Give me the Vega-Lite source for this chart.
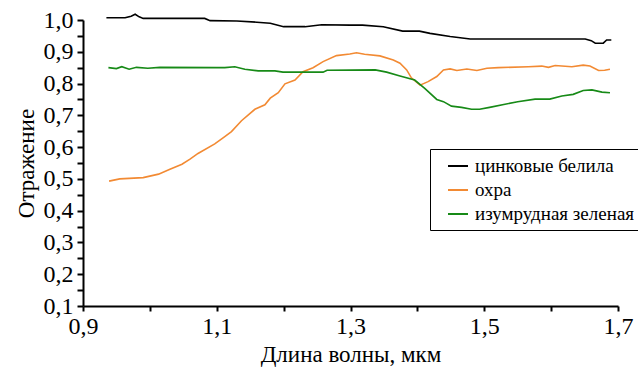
{
  "$schema": "https://vega.github.io/schema/vega-lite/v6.json",
  "width": 535,
  "height": 286,
  "autosize": {"type": "none"},
  "padding": {"left": 83, "top": 20, "right": 20, "bottom": 65},
  "background": "white",
  "config": {
    "view": {"stroke": null},
    "font": "Liberation Serif, Times New Roman, serif",
    "axis": {
      "domainColor": "black", "domainWidth": 2, "tickColor": "black", "tickWidth": 2,
      "labelColor": "black", "titleColor": "black", "grid": false,
      "titleFontWeight": "normal"
    }
  },
  "datasets": {
    "pts": [
      {"m":"цинковые белила","wl":0.935,"r":1.007},{"m":"цинковые белила","wl":0.963,"r":1.007},{"m":"цинковые белила","wl":0.972,"r":1.012},{"m":"цинковые белила","wl":0.978,"r":1.018},{"m":"цинковые белила","wl":0.984,"r":1.010},{"m":"цинковые белила","wl":0.990,"r":1.005},{"m":"цинковые белила","wl":1.082,"r":1.005},{"m":"цинковые белила","wl":1.090,"r":0.998},{"m":"цинковые белила","wl":1.130,"r":0.997},{"m":"цинковые белила","wl":1.160,"r":0.993},{"m":"цинковые белила","wl":1.180,"r":0.990},{"m":"цинковые белила","wl":1.200,"r":0.979},{"m":"цинковые белила","wl":1.232,"r":0.979},{"m":"цинковые белила","wl":1.257,"r":0.985},{"m":"цинковые белила","wl":1.299,"r":0.984},{"m":"цинковые белила","wl":1.318,"r":0.984},{"m":"цинковые белила","wl":1.349,"r":0.979},{"m":"цинковые белила","wl":1.378,"r":0.965},{"m":"цинковые белила","wl":1.403,"r":0.965},{"m":"цинковые белила","wl":1.419,"r":0.958},{"m":"цинковые белила","wl":1.449,"r":0.948},{"m":"цинковые белила","wl":1.479,"r":0.940},{"m":"цинковые белила","wl":1.651,"r":0.940},{"m":"цинковые белила","wl":1.660,"r":0.935},{"m":"цинковые белила","wl":1.666,"r":0.927},{"m":"цинковые белила","wl":1.678,"r":0.927},{"m":"цинковые белила","wl":1.683,"r":0.937},{"m":"цинковые белила","wl":1.690,"r":0.937},
      {"m":"охра","wl":0.939,"r":0.493},{"m":"охра","wl":0.955,"r":0.500},{"m":"охра","wl":0.990,"r":0.504},{"m":"охра","wl":1.013,"r":0.515},{"m":"охра","wl":1.030,"r":0.530},{"m":"охра","wl":1.048,"r":0.546},{"m":"охра","wl":1.060,"r":0.562},{"m":"охра","wl":1.072,"r":0.580},{"m":"охра","wl":1.097,"r":0.610},{"m":"охра","wl":1.112,"r":0.633},{"m":"охра","wl":1.122,"r":0.649},{"m":"охра","wl":1.137,"r":0.683},{"m":"охра","wl":1.157,"r":0.719},{"m":"охра","wl":1.172,"r":0.733},{"m":"охра","wl":1.180,"r":0.754},{"m":"охра","wl":1.192,"r":0.771},{"m":"охра","wl":1.202,"r":0.799},{"m":"охра","wl":1.217,"r":0.811},{"m":"охра","wl":1.229,"r":0.837},{"m":"охра","wl":1.244,"r":0.850},{"m":"охра","wl":1.259,"r":0.869},{"m":"охра","wl":1.279,"r":0.888},{"m":"охра","wl":1.299,"r":0.893},{"m":"охра","wl":1.309,"r":0.897},{"m":"охра","wl":1.321,"r":0.892},{"m":"охра","wl":1.344,"r":0.887},{"m":"охра","wl":1.364,"r":0.874},{"m":"охра","wl":1.374,"r":0.864},{"m":"охра","wl":1.384,"r":0.843},{"m":"охра","wl":1.391,"r":0.818},{"m":"охра","wl":1.404,"r":0.795},{"m":"охра","wl":1.416,"r":0.806},{"m":"охра","wl":1.429,"r":0.822},{"m":"охра","wl":1.439,"r":0.843},{"m":"охра","wl":1.449,"r":0.846},{"m":"охра","wl":1.459,"r":0.841},{"m":"охра","wl":1.474,"r":0.846},{"m":"охра","wl":1.489,"r":0.841},{"m":"охра","wl":1.504,"r":0.848},{"m":"охра","wl":1.521,"r":0.850},{"m":"охра","wl":1.566,"r":0.853},{"m":"охра","wl":1.586,"r":0.855},{"m":"охра","wl":1.596,"r":0.851},{"m":"охра","wl":1.606,"r":0.857},{"m":"охра","wl":1.631,"r":0.853},{"m":"охра","wl":1.648,"r":0.858},{"m":"охра","wl":1.658,"r":0.855},{"m":"охра","wl":1.671,"r":0.841},{"m":"охра","wl":1.680,"r":0.842},{"m":"охра","wl":1.688,"r":0.845},
      {"m":"изумрудная зеленая","wl":0.938,"r":0.850},{"m":"изумрудная зеленая","wl":0.950,"r":0.847},{"m":"изумрудная зеленая","wl":0.958,"r":0.853},{"m":"изумрудная зеленая","wl":0.969,"r":0.845},{"m":"изумрудная зеленая","wl":0.980,"r":0.851},{"m":"изумрудная зеленая","wl":0.997,"r":0.848},{"m":"изумрудная зеленая","wl":1.015,"r":0.851},{"m":"изумрудная зеленая","wl":1.100,"r":0.850},{"m":"изумрудная зеленая","wl":1.112,"r":0.850},{"m":"изумрудная зеленая","wl":1.127,"r":0.853},{"m":"изумрудная зеленая","wl":1.142,"r":0.845},{"m":"изумрудная зеленая","wl":1.162,"r":0.840},{"m":"изумрудная зеленая","wl":1.187,"r":0.840},{"m":"изумрудная зеленая","wl":1.199,"r":0.836},{"m":"изумрудная зеленая","wl":1.259,"r":0.836},{"m":"изумрудная зеленая","wl":1.265,"r":0.842},{"m":"изумрудная зеленая","wl":1.337,"r":0.843},{"m":"изумрудная зеленая","wl":1.354,"r":0.836},{"m":"изумрудная зеленая","wl":1.374,"r":0.824},{"m":"изумрудная зеленая","wl":1.396,"r":0.811},{"m":"изумрудная зеленая","wl":1.411,"r":0.785},{"m":"изумрудная зеленая","wl":1.429,"r":0.750},{"m":"изумрудная зеленая","wl":1.439,"r":0.743},{"m":"изумрудная зеленая","wl":1.451,"r":0.729},{"m":"изумрудная зеленая","wl":1.466,"r":0.725},{"m":"изумрудная зеленая","wl":1.481,"r":0.719},{"m":"изумрудная зеленая","wl":1.493,"r":0.719},{"m":"изумрудная зеленая","wl":1.508,"r":0.725},{"m":"изумрудная зеленая","wl":1.531,"r":0.735},{"m":"изумрудная зеленая","wl":1.550,"r":0.743},{"m":"изумрудная зеленая","wl":1.576,"r":0.751},{"m":"изумрудная зеленая","wl":1.598,"r":0.751},{"m":"изумрудная зеленая","wl":1.616,"r":0.761},{"m":"изумрудная зеленая","wl":1.633,"r":0.766},{"m":"изумрудная зеленая","wl":1.648,"r":0.778},{"m":"изумрудная зеленая","wl":1.661,"r":0.780},{"m":"изумрудная зеленая","wl":1.676,"r":0.773},{"m":"изумрудная зеленая","wl":1.688,"r":0.771}
    ]
  },
  "data": {"name": "pts"},
  "mark": {"type": "line", "strokeWidth": 1.6, "interpolate": "linear"},
  "encoding": {
    "x": {
      "field": "wl", "type": "quantitative",
      "scale": {"domain": [0.9, 1.7], "nice": false, "zero": false},
      "axis": {
        "title": "Длина волны, мкм",
        "labelFontSize": 24, "titleFontSize": 23,
        "values": [0.9, 1.0, 1.1, 1.2, 1.3, 1.4, 1.5, 1.6, 1.7],
        "labelExpr": "round(datum.value*10)%2==1 ? replace(format(datum.value,'.1f'),'.',',') : ''",
        "tickSize": 5,
        "encode": {"ticks": {"update": {"y2": {"signal": "round(datum.value*10)%2==1 ? 5 : 3"}}}},
        "labelPadding": 3,
        "titlePadding": 5,
        "labelFlush": false,
        "labelOverlap": false
      }
    },
    "y": {
      "field": "r", "type": "quantitative",
      "scale": {"domain": [0.1, 1.0], "nice": false, "zero": false},
      "axis": {
        "title": "Отражение",
        "labelFontSize": 24, "titleFontSize": 23,
        "values": [0.1, 0.15, 0.2, 0.25, 0.3, 0.35, 0.4, 0.45, 0.5, 0.55, 0.6, 0.65, 0.7, 0.75, 0.8, 0.85, 0.9, 0.95, 1.0],
        "labelExpr": "round(datum.value*100)%10==0 ? replace(format(datum.value,'.1f'),'.',',') : ''",
        "tickSize": 6,
        "encode": {"ticks": {"update": {"x2": {"signal": "round(datum.value*100)%10==0 ? -6 : -3"}}}},
        "labelPadding": 4,
        "titlePadding": 5,
        "labelOverlap": false,
        "labelFlush": false
      }
    },
    "color": {
      "field": "m", "type": "nominal",
      "scale": {
        "domain": ["цинковые белила", "охра", "изумрудная зеленая"],
        "range": ["#000000", "#F28A33", "#178A17"]
      },
      "legend": {
        "title": null,
        "orient": "none",
        "legendX": 347,
        "legendY": 129,
        "strokeColor": "black",
        "fillColor": "white",
        "padding": 6,
        "cornerRadius": 0,
        "symbolType": "stroke",
        "symbolSize": 400,
        "symbolStrokeWidth": 2,
        "symbolOffset": 11,
        "labelFontSize": 19,
        "labelColor": "black",
        "labelOffset": 6,
        "rowPadding": 3,
        "labelLimit": 300
      }
    }
  }
}
